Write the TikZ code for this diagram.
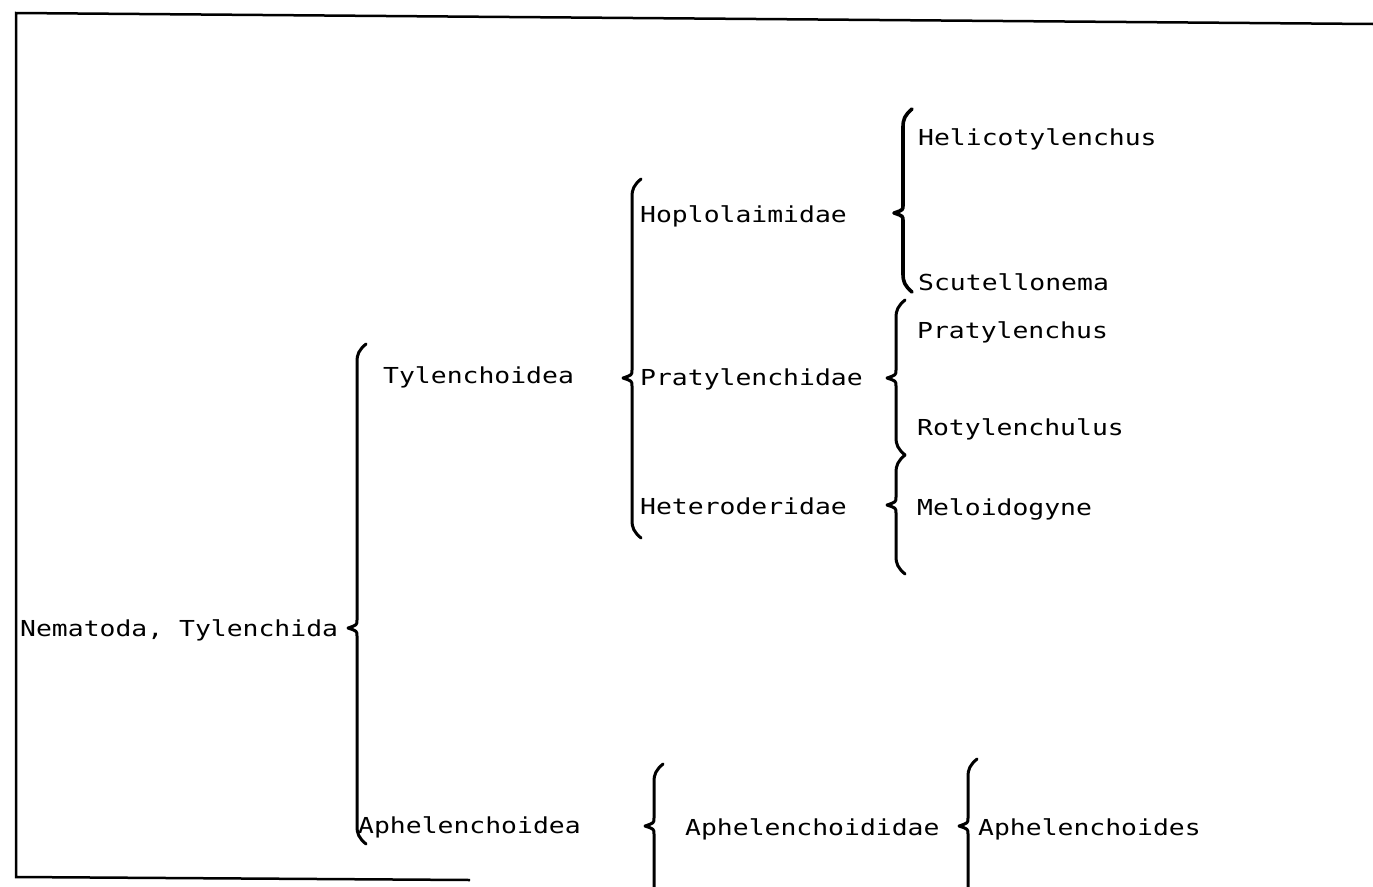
\documentclass[tikz,border=0pt]{standalone}
\usepackage{fontspec}
\newfontfamily\plotfont[FakeStretch=1.2]{DejaVu Sans Mono}
\tikzset{
  lbl/.style={anchor=base west, inner sep=0pt, font=\plotfont\fontsize{22}{22}\selectfont},
  bracestyle/.style={line width=3pt, line cap=round, line join=round},
  framestyle/.style={line width=2.5pt}
}
\newcommand\mybrace[5][]{%
  \draw[bracestyle,#1] (#2+9,#3-6) .. controls (#2+2,#3) and (#2,#3+4) .. (#2,#3+12)
    -- (#2,#4-8) .. controls (#2,#4-3) .. (#2-9,#4) .. controls (#2,#4+3) .. (#2,#4+8)
    -- (#2,#5-12) .. controls (#2,#5-4) and (#2+2,#5) .. (#2+9,#5+6);}
\begin{document}
\begin{tikzpicture}[x=1pt,y=-1pt]
\useasboundingbox (0,0) rectangle (1373,886);
\clip (0,0) rectangle (1373,886);
% frame
\coordinate (ftr) at (1373,24);
\coordinate (ftl) at (16,13);
\coordinate (fbl) at (16,877);
\coordinate (fbr) at (470,880);
\draw[framestyle] (ftr) -- (ftl) -- (fbl) -- (fbr);
% labels
\node[lbl] (nem) at (20,636) {Nematoda, Tylenchida};
\node[lbl] (tyl) at (383,383) {Tylenchoidea};
\node[lbl] (aph) at (358,833) {Aphelenchoidea};
\node[lbl] (hop) at (640,222) {Hoplolaimidae};
\node[lbl] (pra) at (640,385) {Pratylenchidae};
\node[lbl] (het) at (640,514) {Heteroderidae};
\node[lbl] (hel) at (918,145) {Helicotylenchus};
\node[lbl] (scu) at (918,290) {Scutellonema};
\node[lbl] (prs) at (917,338) {Pratylenchus};
\node[lbl] (rot) at (917,435) {Rotylenchulus};
\node[lbl] (mel) at (917,515) {Meloidogyne};
\node[lbl] (aphd) at (685,835) {Aphelenchoididae};
\node[lbl] (aphs) at (978,835) {Aphelenchoides};
% braces
\mybrace{357}{350}{628}{838}
\mybrace{632}{185}{378}{532}
\mybrace[line width=3.6pt]{903}{115}{213}{286}
\mybrace{896}{306}{378}{449}
\mybrace{896}{461}{505}{568}
\mybrace{654}{770}{826}{900}
\mybrace{968}{765}{826}{900}
\end{tikzpicture}
\end{document}
